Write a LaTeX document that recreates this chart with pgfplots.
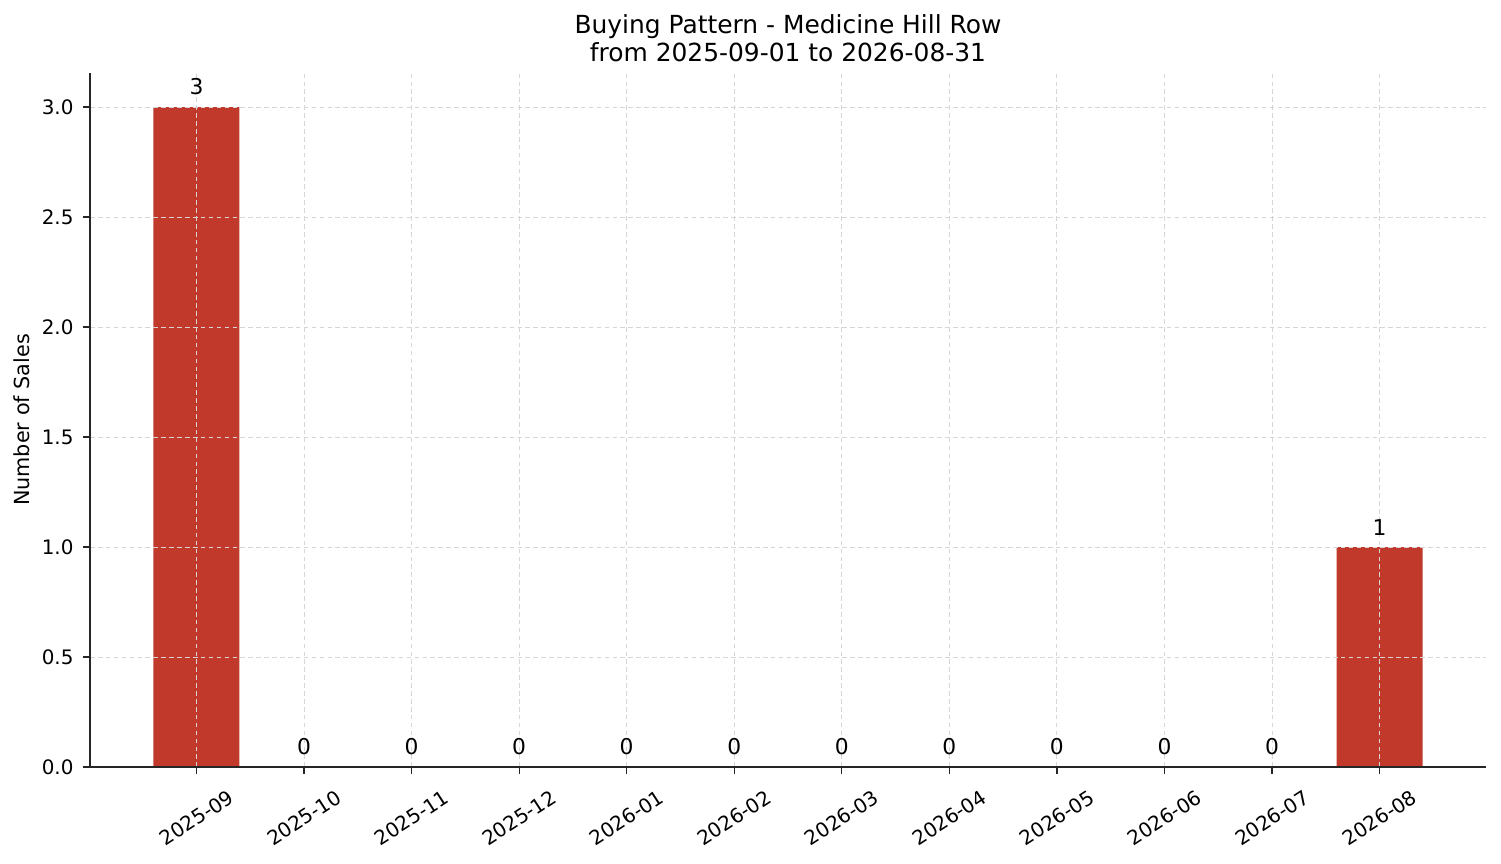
\documentclass[border=0pt]{standalone}
\usepackage{pgfplots}
\pgfplotsset{compat=1.18}
\usepackage{fontspec}
\setmainfont{DejaVu Sans}
\definecolor{barred}{HTML}{C0392B}
\definecolor{gridc}{HTML}{D6D6D6}
\begin{document}
\begin{tikzpicture}
\begin{axis}[
  scale only axis,
  width=670.08bp, height=333.12bp,
  at={(0,0)}, anchor=south west,
  xmin=-0.99, xmax=11.99,
  ymin=0, ymax=3.155,
  axis lines*=left,
  axis line style={-, line width=0.6bp, black!85},
  axis on top,
  ybar, bar width=0.8,
  xtick={0,...,11},
  xticklabels={2025-09,2025-10,2025-11,2025-12,2026-01,2026-02,2026-03,2026-04,2026-05,2026-06,2026-07,2026-08},
  ytick={0,0.5,...,3.0},
  yticklabel style={/pgf/number format/.cd, fixed, fixed zerofill, precision=1, /tikz/.cd},
  /pgf/number format/assume math mode=true,
  tick align=outside,
  major tick length=3.4bp,
  tick style={line width=0.6bp, black!85},
  ticklabel style={font=\fontsize{9.6}{11}\selectfont},
  xticklabel style={anchor=center, yshift=-21bp, rotate=33},
  yticklabel style={xshift=-1bp},
  grid=major,
  major grid style={dashed, dash pattern=on 2.2bp off 1.6bp, gridc, line width=0.4bp},
  title={Buying Pattern - Medicine Hill Row\\from 2025-09-01 to 2026-08-31},
  title style={align=center, font=\fontsize{12}{13.6}\selectfont, at={(axis description cs:0.5,1)}, anchor=south, inner sep=0pt, yshift=-0.8bp},
  ylabel={Number of Sales},
  every axis y label/.style={at={(axis description cs:-0.0487,0.5)}, rotate=90, anchor=center, font=\fontsize{10}{12}\selectfont},
  nodes near coords,
  nodes near coords style={anchor=south, inner sep=0pt, yshift=5.5bp, font=\fontsize{10.5}{12}\selectfont, black},
  point meta=explicit symbolic,
]
\addplot[fill=barred, draw=none] coordinates {
  (0,3) [3] (1,0) [0] (2,0) [0] (3,0) [0] (4,0) [0] (5,0) [0]
  (6,0) [0] (7,0) [0] (8,0) [0] (9,0) [0] (10,0) [0] (11,1) [1]
};
\end{axis}
\pgfresetboundingbox
\path[use as bounding box] (-43.2bp,-46.08bp) rectangle (677.28bp,368.16bp);
\end{tikzpicture}
\end{document}
